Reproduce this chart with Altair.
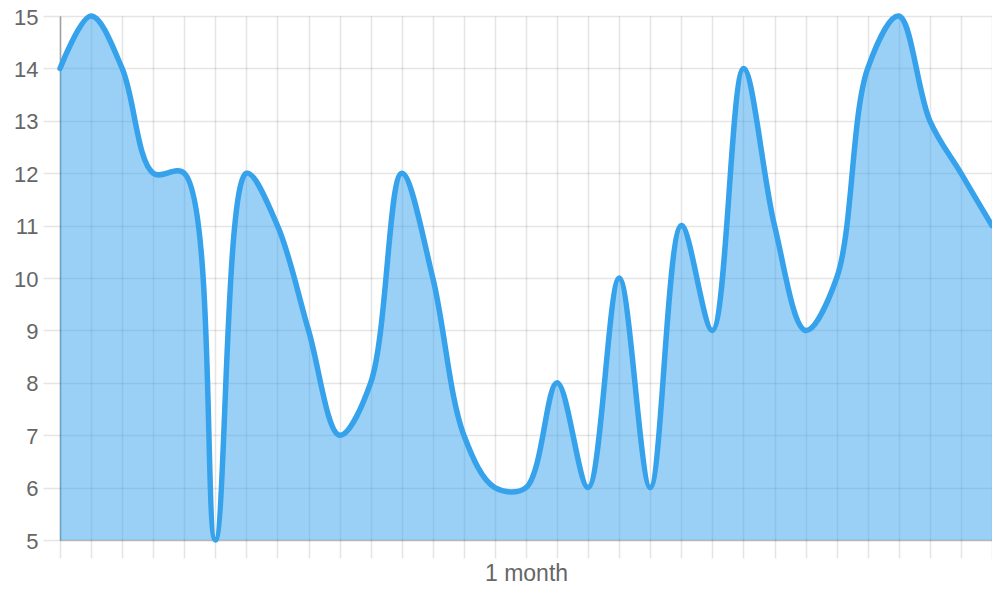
import altair as alt
import pandas as pd

# data
x_index = list(range(31))
values = [14, 15, 14, 12, 12, 5, 12, 11, 9, 7, 8, 12, 10, 7, 6, 6,
          8, 6, 10, 6, 11, 9, 14, 11, 9, 10, 14, 15, 13, 12, 11]
x_tick_values = list(range(31))
x_label_at = 15
x_label_text = "1 month"
y_tick_values = list(range(5, 16))

df = pd.DataFrame({"t": x_index, "v": values})

GRID = "rgba(0,0,0,0.1)"
FONT = "Liberation Sans"

x_enc = alt.X(
    "t:Q",
    scale=alt.Scale(domain=[0, 30], nice=False, zero=False),
    axis=alt.Axis(
        values=x_tick_values,
        labelExpr=f"datum.value == {x_label_at} ? '{x_label_text}' : ''",
        labelOverlap=False,
        grid=True,
        gridColor=GRID,
        gridWidth=1.6,
        tickColor=GRID,
        tickWidth=1.6,
        tickSize=18,
        domainColor="rgba(0,0,0,0.2)",
        domainWidth=1.6,
        labelFontSize=23,
        labelColor="#666666",
        labelFont=FONT,
        labelPadding=4,
        title=None,
    ),
)
y_enc = alt.Y(
    "v:Q",
    scale=alt.Scale(domain=[5, 15], nice=False, zero=False),
    axis=alt.Axis(
        values=y_tick_values,
        grid=True,
        gridColor=GRID,
        gridWidth=1.6,
        tickColor=GRID,
        tickWidth=1.6,
        tickSize=17,
        domainColor="rgba(0,0,0,0.3)",
        domainWidth=1.6,
        labelFontSize=22,
        labelColor="#666666",
        labelFont=FONT,
        labelPadding=5,
        labelOffset=1,
        title=None,
    ),
)

base = alt.Chart(df).encode(x=x_enc, y=y_enc)

area = base.mark_area(interpolate="catmull-rom", color="#36a2eb", opacity=0.5).encode(
    y2=alt.datum(5)
)
line = base.mark_line(
    interpolate="catmull-rom", color="#36a2eb", strokeWidth=5.5,
    strokeCap="round", strokeJoin="round"
)

chart = (
    alt.layer(area, line)
    .properties(
        width=932,
        height=524,
        autosize="none",
        padding={"left": 52, "top": 8, "right": 0, "bottom": 50},
    )
    .configure_view(stroke=None)
)

chart.save("out.html", embed_options={"renderer": "svg", "actions": False})
